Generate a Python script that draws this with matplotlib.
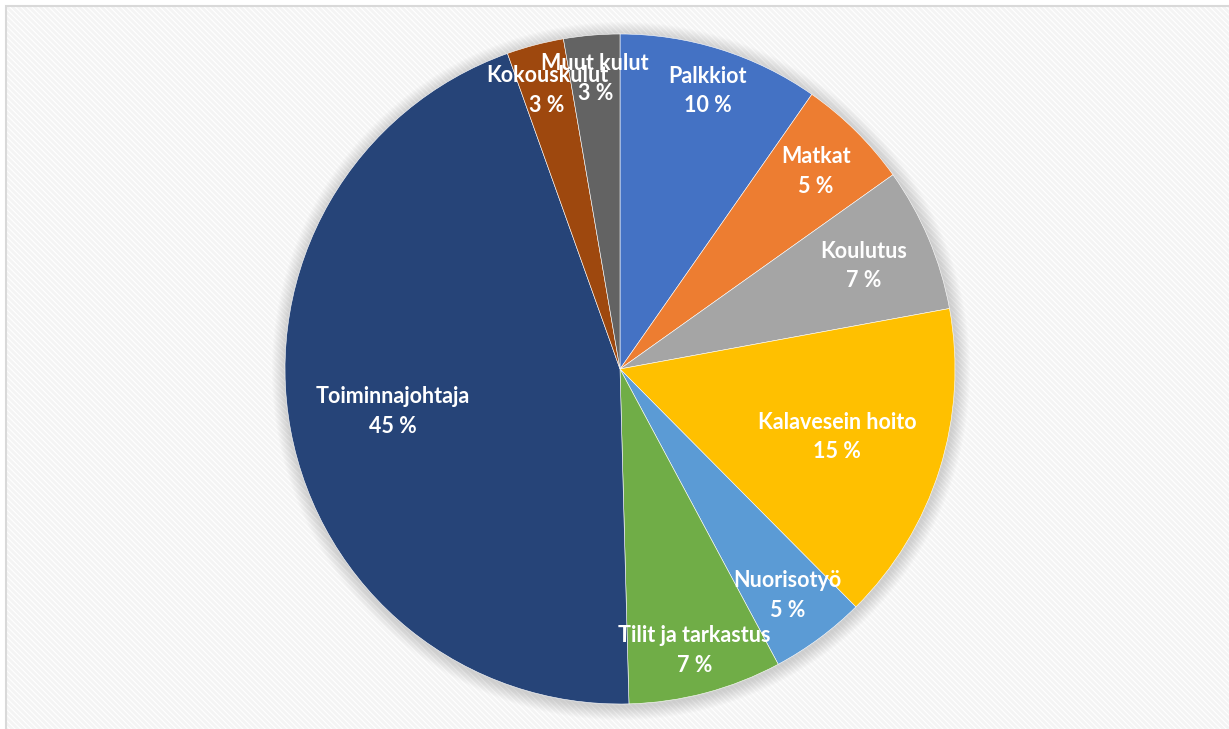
import matplotlib
matplotlib.use("Agg")
import matplotlib.pyplot as plt
import numpy as np
from matplotlib.patches import Circle, Rectangle

categories = [
    "Palkkiot", "Matkat", "Koulutus", "Kalavesein hoito", "Nuorisotyö",
    "Tilit ja tarkastus", "Toiminnajohtaja", "Kokouskulut", "Muut kulut",
]
values = [9.7, 5.45, 6.95, 15.45, 4.6, 7.4, 44.95, 2.75, 2.7]

colors = ["#4472C4", "#ED7D31", "#A5A5A5", "#FFC000", "#5B9BD5",
          "#70AD47", "#264478", "#9E480E", "#636363"]
# radial position of each label, as a fraction of the radius
label_radius = [0.87, 0.83, 0.79, 0.68, 0.84, 0.87, 0.69, 0.86, 0.87]

W, H = 1229, 729
cx, cy, R = 620, H - 369, 335

plt.rcParams["hatch.linewidth"] = 2.0
fig = plt.figure(figsize=(W / 100, H / 100), dpi=100)
ax = fig.add_axes([0, 0, 1, 1])

# chart area: white with faint diagonal stripes and a light frame
ax.add_patch(Rectangle((6, -5), W, H - 1, facecolor="white",
                       edgecolor="#f4f4f4", hatch="\\\\\\\\\\\\", linewidth=0, zorder=0))
ax.add_patch(Rectangle((6, -5), W, H - 1, fill=False,
                       edgecolor="#d9d9d9", linewidth=1.5, zorder=1))

# soft outer shadow
for k in range(14, 0, -1):
    ax.add_patch(Circle((cx + 1, cy - 2), R + k, facecolor="#7f7f7f",
                        edgecolor="none", alpha=0.025, zorder=2))

wedges, _ = ax.pie(values, colors=colors, startangle=90, counterclock=False,
                   center=(cx, cy), radius=R,
                   wedgeprops=dict(edgecolor="white", linewidth=0.4))
for w in wedges:
    w.set_zorder(3)

total = sum(values)
start = 90.0
for name, v, lr in zip(categories, values, label_radius):
    sweep = v / total * 360
    mid = np.deg2rad(start - sweep / 2)
    start -= sweep
    x = cx + lr * R * np.cos(mid)
    y = cy + lr * R * np.sin(mid)
    ax.text(x, y, f"{name}\n{v / total * 100:.0f} %", ha="center", va="center",
            color="white", fontsize=15.5, fontweight="bold", family="Lato",
            linespacing=1.5, zorder=5)

ax.set_xlim(0, W)
ax.set_ylim(0, H)
ax.set_aspect("equal")
ax.set_axis_off()

fig.savefig("out.png", dpi=100)
